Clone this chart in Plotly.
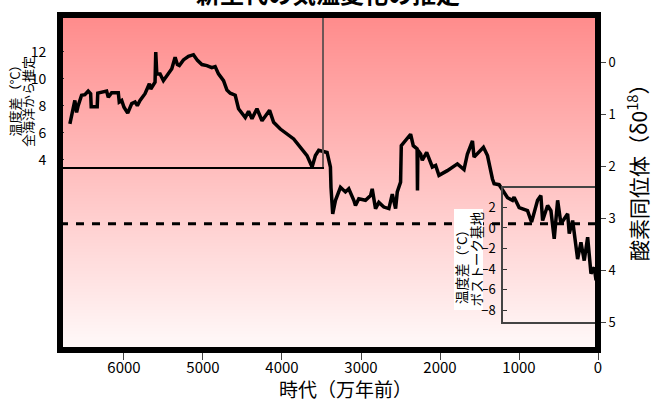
import plotly.graph_objects as go

# ---------------- data ----------------
age_10ka = [6685, 6622, 6600, 6580, 6537, 6495, 6453, 6422, 6415, 6339,
            6332, 6263, 6220, 6199, 6156, 6072, 6060, 6029, 6000, 5953,
            5902, 5860, 5831, 5797, 5734, 5679, 5661, 5607, 5598, 5585,
            5543, 5501, 5458, 5395, 5353, 5324, 5299, 5248, 5184, 5121,
            5070, 5014, 4951, 4888, 4846, 4804, 4740, 4697, 4655, 4592,
            4550, 4465, 4423, 4380, 4317, 4253, 4157, 4106, 4021, 3852,
            3683, 3619, 3577, 3535, 3429, 3387, 3380, 3358, 3323, 3260,
            3197, 3155, 3091, 3070, 3028, 2943, 2879, 2858, 2816, 2774,
            2711, 2647, 2604, 2562, 2541, 2499, 2490, 2436, 2372, 2338,
            2290, 2285, 2280, 2245, 2224, 2169, 2097, 2055, 2013, 1907,
            1780, 1696, 1653, 1589, 1569, 1450, 1399, 1336, 1315, 1252,
            1196, 1145, 1082, 1062, 998, 892, 841, 765, 723, 701,
            638, 596, 554, 511, 469, 384, 364, 321, 258, 216,
            174, 131, 89, 47, 25, 0]

d18o = [1.18, 0.73, 0.96, 0.83, 0.63, 0.62, 0.55, 0.60, 0.85, 0.85,
        0.59, 0.57, 0.55, 0.67, 0.58, 0.58, 0.76, 0.73, 0.86, 0.975,
        0.79, 0.76, 0.83, 0.73, 0.60, 0.41, 0.51, 0.38, -0.20, 0.22,
        0.22, 0.35, 0.25, 0.12, -0.10, 0.04, 0.06, -0.05, -0.12, -0.15,
        -0.04, 0.04, 0.06, 0.10, 0.08, 0.22, 0.35, 0.53, 0.59, 0.63,
        0.89, 1.06, 0.94, 1.08, 0.89, 1.12, 0.92, 1.15, 1.28, 1.47,
        1.79, 2.01, 1.79, 1.69, 1.73, 2.01, 2.40, 2.91, 2.65, 2.40,
        2.49, 2.43, 2.65, 2.75, 2.62, 2.65, 2.56, 2.43, 2.81, 2.69,
        2.78, 2.81, 2.53, 2.81, 2.49, 2.30, 1.60, 1.50, 1.38, 1.60,
        1.66, 2.46, 1.69, 1.76, 1.88, 1.73, 2.01, 1.98, 2.17, 2.08,
        1.95, 2.06, 1.76, 1.51, 1.82, 1.63, 1.79, 2.24, 2.33, 2.35,
        2.49, 2.60, 2.65, 2.59, 2.79, 2.85, 3.07, 2.65, 2.56, 3.04,
        2.75, 2.85, 3.39, 2.65, 3.10, 2.91, 3.29, 3.04, 3.78, 3.46,
        3.81, 3.36, 4.06, 3.94, 4.19, 3.96]

modern_d18o = 3.1

x_ticks = [6000, 5000, 4000, 3000, 2000, 1000, 0]
d18o_ticks = [0, 1, 2, 3, 4, 5]
ocean_temp_ticks = [4, 6, 8, 10, 12]
vostok_temp_ticks = [-8, -6, -4, -2, 0, 2]

title_text = "<b>新生代の気温変化の推定</b>"
x_title = "時代（万年前）"
d18o_title = "酸素同位体（δ0<sup>18</sup>）"
ocean_title = ["温度差（°C）", "全海洋から推定"]
vostok_title = ["温度差（°C）", "ボストーク基地"]

# ---------------- layout constants ----------------
W, H = 651, 401
ML, MR, MT, MB = 60, 53, 15, 51
PW, PH = W - ML - MR, H - MT - MB
X_RANGE = [6810, 0]
Y_RANGE = [5.529, -0.913]
FONT = "Noto Sans CJK JP"


def px_x(px):
    return (px - ML) / PW


def px_y(py):
    return (H - MB - py) / PH


fig = go.Figure()

# background gradient
fig.add_trace(go.Heatmap(
    x=X_RANGE, y=Y_RANGE, z=[[0, 0], [1, 1]],
    colorscale=[[0, "#fffafa"], [1, "#ff8b8b"]],
    zsmooth="best", showscale=False, hoverinfo="skip"))

# present-day reference (dashed)
fig.add_trace(go.Scatter(
    x=X_RANGE, y=[modern_d18o, modern_d18o], mode="lines",
    line=dict(color="black", width=3, dash="8px,8px"), hoverinfo="skip"))

# oxygen isotope curve
fig.add_trace(go.Scatter(
    x=age_10ka, y=d18o, mode="lines",
    line=dict(color="black", width=3.5), hoverinfo="skip"))

# empty traces so that the two scale boxes get their own subplots
fig.add_trace(go.Scatter(x=[], y=[], xaxis="x2", yaxis="y3",
                         mode="lines", hoverinfo="skip"))
fig.add_trace(go.Scatter(x=[], y=[], xaxis="x3", yaxis="y5",
                         mode="lines", hoverinfo="skip"))

axis_common = dict(showgrid=False, zeroline=False)

fig.update_layout(
    width=W, height=H,
    margin=dict(l=ML, r=MR, t=MT, b=MB, autoexpand=False),
    paper_bgcolor="white", plot_bgcolor="rgba(0,0,0,0)",
    showlegend=False,
    font=dict(family=FONT, color="black"),
    xaxis=dict(range=X_RANGE, tickvals=x_ticks, ticks="outside", ticklen=9,
               tickcolor="#444", tickwidth=1, showline=False,
               ticklabelstandoff=-5,
               tickfont=dict(size=15, family=FONT), **axis_common),
    yaxis=dict(range=Y_RANGE, side="right", tickvals=d18o_ticks,
               ticks="outside", ticklen=7, tickcolor="#444", tickwidth=1,
               showline=False, tickfont=dict(size=13, family=FONT),
               **axis_common),
    # left box: whole-ocean temperature scale
    xaxis2=dict(domain=[0, px_x(322)], anchor="y3", range=[0, 1],
                showline=True, linecolor="black", linewidth=1.5,
                showticklabels=False, ticks="", **axis_common),
    yaxis3=dict(domain=[px_y(167), 1], anchor="x2", side="left",
                range=[3.48, 14.74], tickvals=ocean_temp_ticks,
                ticks="inside", ticklen=4, tickcolor="#333",
                ticklabelstandoff=9, showline=True, mirror=True,
                linecolor="#6e5656", linewidth=2,
                tickfont=dict(size=14, family=FONT), **axis_common),
    # inset box: Vostok temperature scale
    xaxis3=dict(domain=[px_x(503), 1], anchor="y5", range=[0, 1],
                showline=True, mirror=True, linecolor="#444", linewidth=1.5,
                showticklabels=False, ticks="", **axis_common),
    yaxis5=dict(domain=[px_y(322), px_y(187.5)], anchor="x3", side="left",
                range=[-9.13, 3.93], tickvals=vostok_temp_ticks,
                ticks="inside", ticklen=4, tickcolor="#333",
                ticklabelstandoff=3, showline=True, linecolor="#444",
                linewidth=1.5, tickfont=dict(size=13, family=FONT),
                **axis_common),
)

shapes = [
    # white panel behind the Vostok label
    dict(type="rect", xref="paper", yref="paper",
         x0=px_x(454), x1=px_x(483), y0=px_y(310), y1=px_y(209),
         fillcolor="white", line=dict(width=0), layer="above"),
    # heavy frame
    dict(type="rect", xref="paper", yref="paper", x0=0, x1=1, y0=0, y1=1,
         line=dict(color="black", width=6), layer="above"),
]
fig.update_layout(shapes=shapes)

ann = []
ann.append(dict(text=title_text, xref="paper", yref="paper",
                x=px_x(328), y=px_y(-8), xanchor="center", yanchor="middle",
                showarrow=False, font=dict(size=24, family=FONT, color="black"),
                ))
ann.append(dict(text=x_title, xref="paper", yref="paper",
                x=px_x(345), y=px_y(388), xanchor="center", yanchor="middle",
                showarrow=False, font=dict(size=19, family=FONT)))
ann.append(dict(text=d18o_title, xref="paper", yref="paper",
                x=px_x(637), y=px_y(168), xanchor="center", yanchor="middle",
                textangle=-90, showarrow=False, font=dict(size=21, family=FONT)))
for txt, cx, cy in zip(ocean_title, [14, 27.5], [97.5, 101.5]):
    ann.append(dict(text=txt, xref="paper", yref="paper",
                    x=px_x(cx), y=px_y(cy), xanchor="center", yanchor="middle",
                    textangle=-90, showarrow=False,
                    font=dict(size=13, family=FONT)))
for txt, cx, cy in zip(vostok_title, [461, 475.5], [264, 259]):
    ann.append(dict(text=txt, xref="paper", yref="paper",
                    x=px_x(cx), y=px_y(cy), xanchor="center", yanchor="middle",
                    textangle=-90, showarrow=False,
                    font=dict(size=13.5, family=FONT)))
fig.update_layout(annotations=ann)

fig.write_html(
    "out.html",
    config={"displayModeBar": False},
    post_script="document.body.style.margin='0px';"
                "document.body.style.overflow='hidden';",
)
